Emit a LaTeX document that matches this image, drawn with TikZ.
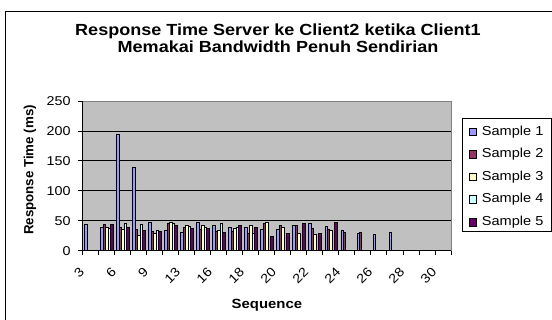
\documentclass[tikz,border=0pt]{standalone}
\usepackage{fontspec}
\setmainfont{Liberation Sans}[FakeStretch=1.12]
\newfontfamily\plainsans{Liberation Sans}
\usepackage{tikz}
\usepackage{xcolor}
\definecolor{ser1}{HTML}{9999FF}
\definecolor{ser2}{HTML}{993366}
\definecolor{ser3}{HTML}{FFFFCC}
\definecolor{ser4}{HTML}{CCFFFF}
\definecolor{ser5}{HTML}{660066}
\definecolor{plotbg}{HTML}{C0C0C0}
\tikzstyle{bar} = [draw=black, line width=0.4pt]
\tikzstyle{gridline} = [draw=black, line width=0.8pt]
\tikzstyle{axisline} = [draw=black, line width=0.8pt]
\tikzstyle{ticklab} = [inner sep=0pt, font=\fontsize{12.8}{14}\selectfont]
\tikzstyle{axistitle} = [inner sep=0pt, font=\fontsize{13.3}{15}\selectfont\bfseries]
\tikzstyle{legkey} = [rectangle, draw=black, line width=0.4pt, minimum size=7.5pt, inner sep=0pt]
\tikzstyle{legtext} = [inner sep=0pt, anchor=west, font=\fontsize{13}{15}\selectfont]

\begin{document}
\begin{tikzpicture}[x=1pt,y=1pt]
  \useasboundingbox (0,0) rectangle (552,320);
  \draw[line width=0.8pt] (5,0) -- (5,308.3) -- (552,308.3);

  \node[align=center, inner sep=0pt, font=\fontsize{16.1}{17}\selectfont\bfseries] (title) at (278,281.5)
    {Response Time Server ke Client2 ketika Client1\\Memakai Bandwidth Penuh Sendirian};

  % plot area
  \begin{scope}[shift={(82.7,69.3)}, x=16.01pt, y=0.5988pt]
    \fill[plotbg] (0,0) rectangle (23,250);
    \foreach \v in {50,100,150,200}
      \draw[gridline] (0,\v) -- (23,\v);
    \draw[draw=gray, line width=0.8pt] (0,250) -- (23,250) -- (23,0);

    % bars: category / sample 1..5
    \foreach \c/\ra/\rb/\rc/\rd/\re in {1/45/0/0/0/0, 2/39/45/40/37/45, 3/195/40/36/46/39,
        4/140/36/26/44/35, 5/48/33/29/35/32, 6/35/46/48/46/42, 7/31/40/43/41/38,
        8/48/36/42/39/37, 9/42/33/35/46/31, 10/40/32/38/39/42, 11/39/29/42/29/39,
        12/36/46/47/0/25, 13/36/43/40/0/30, 14/43/42/29/0/46, 15/46/38/27/0/29,
        16/41/36/35/0/47, 17/35/31/0/0/0, 18/29/31/0/0/0, 19/27/0/0/0/0, 20/31/0/0/0/0} {
      \foreach \v [count=\s] in {\ra,\rb,\rc,\rd,\re} {
        \ifnum\v>0
          \pgfmathsetmacro{\xl}{\c-1+0.1154+(\s-1)*0.1538}
          \draw[bar, fill=ser\s] (\xl,0) rectangle ++(0.1538,\v);
        \fi
      }
    }

    \draw[axisline] (0,250) -- (0,0) -- (23,0);
    \foreach \v in {0,50,...,250} {
      \draw[axisline] (0,\v) -- ++(-4.7pt,0pt);
      \node[ticklab, anchor=east] (yl\v) at ([xshift=-12pt]0,\v) {\v};
    }
    \foreach \k in {0,...,23}
      \draw[axisline] (\k,0) -- ++(0pt,-4.5pt);
    \foreach \i/\t in {1/3,3/6,5/9,7/13,9/16,11/18,13/20,15/22,17/24,19/26,21/28,23/30}
      \node[ticklab, anchor=east, rotate=45] (xl\i) at ([xshift=-8.7pt,yshift=-19pt]\i-0.5,0) {\t};
  \end{scope}

  \node[axistitle] (xtitle) at (266.9,14.6) {Sequence};
  \node[axistitle, font=\fontsize{13.3}{15}\selectfont\plainsans\bfseries, rotate=90] (ytitle) at (30,150) {Response Time (ms)};

  % legend
  \draw[line width=0.8pt] (462.7,88.3) rectangle (551.5,201.7);
  \foreach \s/\y in {1/188.3, 2/166, 3/143.3, 4/121, 5/97.7} {
    \node[legkey, fill=ser\s] (key\s) at (472.5,\y) {};
    \node[legtext] (leg\s) at (481.7,\y) {Sample \s};
  }
\end{tikzpicture}
\end{document}
